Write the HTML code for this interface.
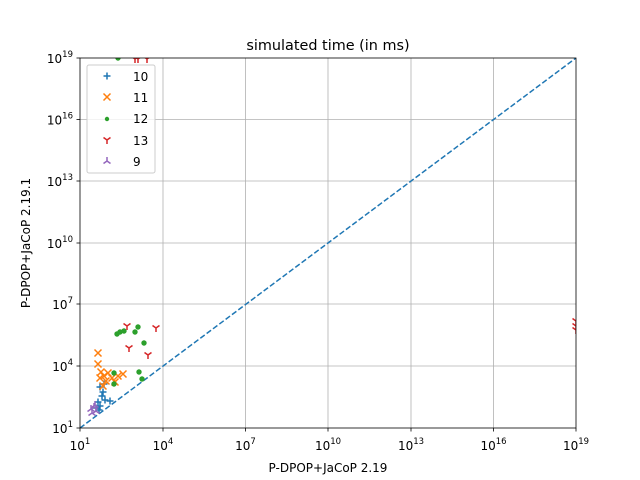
<!DOCTYPE html>
<html><head><style>body{margin:0;background:#fff}svg{display:block}text{font-family:"DejaVu Sans","Liberation Sans",sans-serif;fill:#000}</style></head><body>
<svg width="640" height="480" viewBox="0 0 640 480" xmlns="http://www.w3.org/2000/svg">
<defs>
<clipPath id="c"><rect x="80" y="58" width="496" height="370"/></clipPath>
<path id="p" d="M-3.5,0H3.5M0,-3.5V3.5" stroke="#1f77b4" stroke-width="1.5"/>
<path id="x" d="M-3.5,-3.5L3.5,3.5M-3.5,3.5L3.5,-3.5" stroke="#ff7f0e" stroke-width="1.5"/>
<circle id="g" r="2.7" fill="#2ca02c"/>
<path id="r" d="M0,0V4M0,0L-3.5,-2.5M0,0L3.5,-2.5" stroke="#d62728" stroke-width="1.5"/>
<path id="v" d="M0,0V-4M0,0L-3.5,2.5M0,0L3.5,2.5" stroke="#9467bd" stroke-width="1.5"/>
</defs>
<g stroke="#b0b0b0" stroke-width="0.8">
<line x1="163" y1="58" x2="163" y2="428"/><line x1="245.5" y1="58" x2="245.5" y2="428"/><line x1="328" y1="58" x2="328" y2="428"/><line x1="411" y1="58" x2="411" y2="428"/><line x1="493.5" y1="58" x2="493.5" y2="428"/>
<line x1="80" y1="366" x2="576" y2="366"/><line x1="80" y1="304" x2="576" y2="304"/><line x1="80" y1="243" x2="576" y2="243"/><line x1="80" y1="181" x2="576" y2="181"/><line x1="80" y1="119.5" x2="576" y2="119.5"/>
</g>
<g clip-path="url(#c)">
<line x1="80" y1="428" x2="576" y2="58" stroke="#1f77b4" stroke-width="1.5" stroke-dasharray="5.5,2.4"/>
<use href="#p" x="100" y="387"/><use href="#p" x="103" y="392"/><use href="#p" x="104" y="384"/><use href="#p" x="102" y="396"/><use href="#p" x="98" y="402"/><use href="#p" x="100" y="406"/><use href="#p" x="105" y="400"/><use href="#p" x="110" y="401"/><use href="#p" x="96" y="408"/><use href="#p" x="99" y="410"/>
<use href="#x" x="98" y="353"/><use href="#x" x="98" y="364"/><use href="#x" x="101" y="372"/><use href="#x" x="104" y="376"/><use href="#x" x="108" y="373"/><use href="#x" x="112" y="378"/><use href="#x" x="118" y="376"/><use href="#x" x="123" y="374"/><use href="#x" x="106" y="381"/><use href="#x" x="115" y="382"/><use href="#x" x="103" y="386"/><use href="#x" x="100" y="378"/>
<use href="#g" x="117" y="334"/><use href="#g" x="120" y="332"/><use href="#g" x="124" y="331"/><use href="#g" x="135" y="332"/><use href="#g" x="138" y="327"/><use href="#g" x="144" y="343"/><use href="#g" x="139" y="372"/><use href="#g" x="142" y="379"/><use href="#g" x="114" y="373"/><use href="#g" x="114" y="384"/><use href="#g" x="118" y="58"/>
<use href="#r" x="127" y="326"/><use href="#r" x="156" y="328"/><use href="#r" x="129" y="348"/><use href="#r" x="148" y="355"/><use href="#r" x="135" y="59"/><use href="#r" x="138" y="59"/><use href="#r" x="147" y="59"/><use href="#r" x="576" y="321"/><use href="#r" x="576" y="326"/><use href="#r" x="576" y="330"/>
<use href="#v" x="91" y="409"/><use href="#v" x="94" y="407"/><use href="#v" x="96" y="411"/><use href="#v" x="92" y="413"/><use href="#v" x="95" y="405"/>
</g>
<rect x="80" y="58" width="496" height="370" fill="none" stroke="#000" stroke-width="0.8"/>
<g stroke="#000" stroke-width="0.8">
<line x1="80" y1="428" x2="80" y2="431.5"/><line x1="163" y1="428" x2="163" y2="431.5"/><line x1="245.5" y1="428" x2="245.5" y2="431.5"/><line x1="328" y1="428" x2="328" y2="431.5"/><line x1="411" y1="428" x2="411" y2="431.5"/><line x1="493.5" y1="428" x2="493.5" y2="431.5"/><line x1="576" y1="428" x2="576" y2="431.5"/>
<line x1="76.5" y1="428" x2="80" y2="428"/><line x1="76.5" y1="366" x2="80" y2="366"/><line x1="76.5" y1="304" x2="80" y2="304"/><line x1="76.5" y1="243" x2="80" y2="243"/><line x1="76.5" y1="181" x2="80" y2="181"/><line x1="76.5" y1="119.5" x2="80" y2="119.5"/><line x1="76.5" y1="58" x2="80" y2="58"/>
</g>
<g font-size="12" text-anchor="middle">
<text x="80" y="450">10<tspan font-size="8.5" dy="-6">1</tspan></text>
<text x="163" y="450">10<tspan font-size="8.5" dy="-6">4</tspan></text>
<text x="245.5" y="450">10<tspan font-size="8.5" dy="-6">7</tspan></text>
<text x="328" y="450">10<tspan font-size="8.5" dy="-6">10</tspan></text>
<text x="411" y="450">10<tspan font-size="8.5" dy="-6">13</tspan></text>
<text x="493.5" y="450">10<tspan font-size="8.5" dy="-6">16</tspan></text>
<text x="576" y="450">10<tspan font-size="8.5" dy="-6">19</tspan></text>
</g>
<g font-size="12" text-anchor="end">
<text x="73" y="433">10<tspan font-size="8.5" dy="-6">1</tspan></text>
<text x="73" y="371">10<tspan font-size="8.5" dy="-6">4</tspan></text>
<text x="73" y="309">10<tspan font-size="8.5" dy="-6">7</tspan></text>
<text x="73" y="248">10<tspan font-size="8.5" dy="-6">10</tspan></text>
<text x="73" y="186">10<tspan font-size="8.5" dy="-6">13</tspan></text>
<text x="73" y="124.5">10<tspan font-size="8.5" dy="-6">16</tspan></text>
<text x="73" y="63">10<tspan font-size="8.5" dy="-6">19</tspan></text>
</g>
<text x="328" y="472" font-size="12" text-anchor="middle">P-DPOP+JaCoP 2.19</text>
<text x="30" y="243" font-size="12" text-anchor="middle" transform="rotate(-90 30 243)">P-DPOP+JaCoP 2.19.1</text>
<text x="328" y="50" font-size="14.4" text-anchor="middle">simulated time (in ms)</text>
<rect x="87" y="65" width="68" height="108" rx="2" fill="#fff" fill-opacity="0.8" stroke="#ccc"/>
<use href="#p" x="107" y="76"/><use href="#x" x="107" y="97"/><circle cx="107" cy="119" r="2.2" fill="#2ca02c"/><use href="#r" x="107" y="140"/><use href="#v" x="107" y="161"/>
<g font-size="12"><text x="133" y="81">10</text><text x="133" y="102">11</text><text x="133" y="123">12</text><text x="133" y="145">13</text><text x="133" y="166">9</text></g>
</svg>
</body></html>
